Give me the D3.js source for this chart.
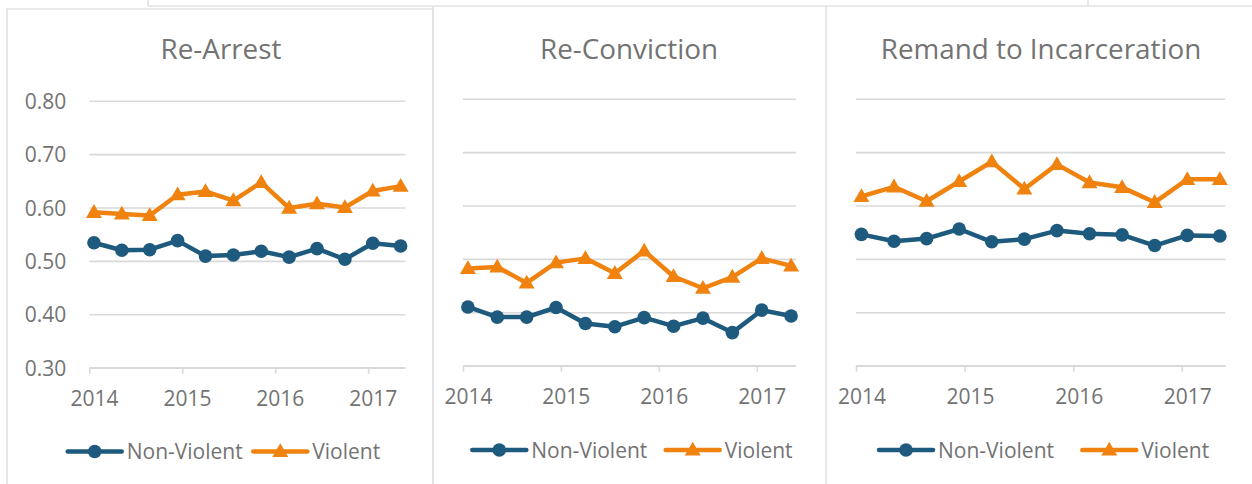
<!DOCTYPE html>
<html>
<head>
<meta charset="utf-8">
<script src="https://cdn.jsdelivr.net/npm/d3@7"></script>
<style>
  html, body { margin: 0; padding: 0; background: #ffffff; }
  svg { display: block; }
  text { font-family: "Open Sans", Lato, sans-serif; fill: #737373; }
</style>
</head>
<body>
<svg id="chart" width="1252" height="484"></svg>
<script>
// ---- data ----
const periods = [2014.05, 2014.35, 2014.65, 2014.95, 2015.25, 2015.55, 2015.85, 2016.15, 2016.45, 2016.75, 2017.05, 2017.35];
const yearTicks = [2014, 2015, 2016, 2017];
const yTicks = [0.30, 0.40, 0.50, 0.60, 0.70, 0.80];
const seriesNames = ["Non-Violent", "Violent"];
const panelTitles = ["Re-Arrest", "Re-Conviction", "Remand to Incarceration"];

const rearrestNonViolent = [0.534, 0.520, 0.521, 0.538, 0.509, 0.511, 0.518, 0.507, 0.523, 0.503, 0.533, 0.528];
const rearrestViolent    = [0.591, 0.588, 0.585, 0.624, 0.630, 0.613, 0.647, 0.599, 0.607, 0.600, 0.631, 0.640];
const reconvNonViolent   = [0.410, 0.391, 0.391, 0.409, 0.379, 0.373, 0.390, 0.374, 0.389, 0.362, 0.404, 0.393];
const reconvViolent      = [0.482, 0.485, 0.455, 0.493, 0.501, 0.473, 0.515, 0.467, 0.445, 0.466, 0.501, 0.487];
const remandNonViolent   = [0.546, 0.533, 0.538, 0.556, 0.532, 0.537, 0.553, 0.547, 0.545, 0.525, 0.544, 0.543];
const remandViolent      = [0.617, 0.635, 0.608, 0.645, 0.682, 0.631, 0.677, 0.643, 0.634, 0.606, 0.649, 0.649];

const panelData = [
  [rearrestNonViolent, rearrestViolent],
  [reconvNonViolent, reconvViolent],
  [remandNonViolent, remandViolent]
];

// ---- styles / layout ----
const colors = ["#1e5a7e", "#f0820f"];
const gridColor = "#d9d9d9";
const frameColor = "#e2e2e2";

const layouts = [
  { left: 89.3, right: 405.3, top: 100.7, bottom: 367.7, titleX: 221, showY: true,
    legend: { blueX: 67.7, orangeX: 253.3, y: 451.5 } },
  { left: 463, right: 796, top: 98.7, bottom: 365.7, titleX: 629, showY: false,
    legend: { blueX: 472.3, orangeX: 665.7, y: 450 } },
  { left: 856, right: 1225.3, top: 98.7, bottom: 365.7, titleX: 1041, showY: false,
    legend: { blueX: 879, orangeX: 1082.3, y: 450 } }
];

const svg = d3.select("#chart");

// frames
const frames = svg.append("g").attr("fill", "none").attr("stroke", frameColor).attr("stroke-width", 1.6);
frames.append("line").attr("x1", 148).attr("y1", 0).attr("x2", 148).attr("y2", 6);
frames.append("line").attr("x1", 1088).attr("y1", 0).attr("x2", 1088).attr("y2", 6);
frames.append("line").attr("x1", 148).attr("y1", 6).attr("x2", 1252).attr("y2", 6);
frames.append("path").attr("d", "M7,490 L7,9 L433,9 L433,490");
frames.append("line").attr("x1", 433).attr("y1", 6).attr("x2", 433).attr("y2", 490);
frames.append("line").attr("x1", 826).attr("y1", 6).attr("x2", 826).attr("y2", 490);

const triangle = d3.symbol().type(d3.symbolTriangle).size(110);

layouts.forEach((L, pi) => {
  const g = svg.append("g");
  const x = d3.scaleLinear().domain([2014, 2017.4]).range([L.left, L.right]);
  const y = d3.scaleLinear().domain([0.30, 0.80]).range([L.bottom, L.top]);

  // gridlines
  const yAxis = d3.axisLeft(y).tickValues(yTicks).tickSize(-(L.right - L.left)).tickFormat(d3.format(".2f")).tickPadding(23);
  const ga = g.append("g").attr("transform", `translate(${L.left},0)`).call(yAxis);
  ga.select(".domain").remove();
  ga.selectAll(".tick line").attr("stroke", gridColor).attr("stroke-width", 1.6);
  ga.selectAll(".tick text").attr("font-size", 21).attr("fill", "#737373").attr("dy", "0.36em")
    .style("font-family", "'Open Sans', sans-serif")
    .style("display", L.showY ? null : "none");

  // x axis
  const xAxis = d3.axisBottom(x).tickValues(yearTicks).tickSize(6).tickFormat(d3.format("d")).tickPadding(0);
  const gx = g.append("g").attr("transform", `translate(0,${L.bottom})`).call(xAxis);
  gx.select(".domain").attr("stroke", gridColor).attr("stroke-width", 1.6).attr("d", `M${L.left},0H${L.right}`);
  gx.selectAll(".tick line").attr("stroke", gridColor).attr("stroke-width", 1.6);
  gx.selectAll(".tick text").attr("font-size", 21).attr("fill", "#737373")
    .style("font-family", "'Open Sans', sans-serif")
    .attr("dy", 0).attr("y", 38.5)
    .attr("x", d => x(d + 0.05) - x(d));

  // title
  g.append("text").attr("x", L.titleX).attr("y", 59).attr("text-anchor", "middle")
    .attr("font-size", 27.8).text(panelTitles[pi]);

  // series
  panelData[pi].forEach((vals, si) => {
    const pts = vals.map((v, i) => [x(periods[i]), y(v)]);
    g.append("path").attr("d", d3.line()(pts)).attr("fill", "none")
      .attr("stroke", colors[si]).attr("stroke-width", 4.5).attr("stroke-linejoin", "round");
    if (si === 0) {
      g.selectAll(null).data(pts).enter().append("circle")
        .attr("cx", d => d[0]).attr("cy", d => d[1]).attr("r", 6.8).attr("fill", colors[si]);
    } else {
      g.selectAll(null).data(pts).enter().append("path")
        .attr("d", triangle).attr("transform", d => `translate(${d[0]},${d[1] + 1})`).attr("fill", colors[si]);
    }
  });

  // legend
  const lg = g.append("g");
  [L.legend.blueX, L.legend.orangeX].forEach((lx, si) => {
    lg.append("line").attr("x1", lx).attr("x2", lx + 54).attr("y1", L.legend.y).attr("y2", L.legend.y)
      .attr("stroke", colors[si]).attr("stroke-width", 4.5).attr("stroke-linecap", "round");
    if (si === 0) {
      lg.append("circle").attr("cx", lx + 27).attr("cy", L.legend.y).attr("r", 6.8).attr("fill", colors[si]);
    } else {
      lg.append("path").attr("d", triangle).attr("transform", `translate(${lx + 27},${L.legend.y + 1})`).attr("fill", colors[si]);
    }
    lg.append("text").attr("x", lx + 59).attr("y", L.legend.y).attr("dy", "0.36em")
      .attr("font-size", 21).text(seriesNames[si]);
  });
});
</script>
</body>
</html>
